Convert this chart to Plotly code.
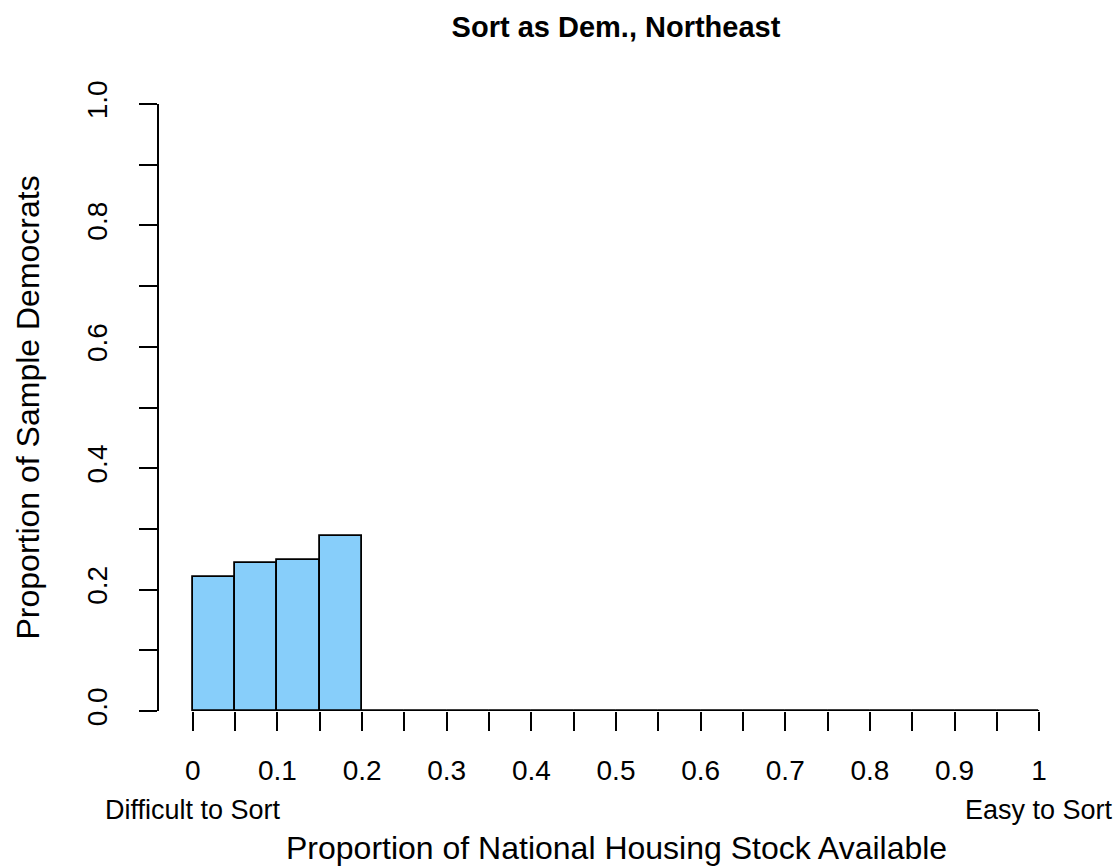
import plotly.graph_objects as go

# Data
bin_left = [round(0.05 * i, 2) for i in range(20)]
bin_width = 0.05
proportions = [0.221, 0.244, 0.248, 0.288] + [0.0] * 16
x_tick_vals = [round(0.05 * i, 2) for i in range(21)]
x_tick_text = ["0", "", "0.1", "", "0.2", "", "0.3", "", "0.4", "", "0.5", "",
               "0.6", "", "0.7", "", "0.8", "", "0.9", "", "1"]
y_tick_vals = [round(0.1 * i, 1) for i in range(11)]
y_tick_text = ["0.0", "", "0.2", "", "0.4", "", "0.6", "", "0.8", "", "1.0"]

title_text = "<b>Sort as Dem., Northeast</b>"
x_title = "Proportion of National Housing Stock Available"
y_title = "Proportion of Sample Democrats"
left_note = "Difficult to Sort"
right_note = "Easy to Sort"

FONT = "Liberation Sans, Arial, Helvetica, sans-serif"

centers = [b + bin_width / 2 for b in bin_left]

fig = go.Figure()
fig.add_trace(go.Bar(
    x=centers, y=proportions, width=bin_width,
    marker=dict(color="#87CEFA", line=dict(color="black", width=1.8)),
    cliponaxis=False, showlegend=False, hoverinfo="skip",
))
fig.add_trace(go.Scatter(
    x=[bin_left[0], bin_left[-1] + bin_width], y=[0, 0], mode="lines",
    line=dict(color="black", width=1.8), cliponaxis=False,
    showlegend=False, hoverinfo="skip",
))

fig.update_layout(
    width=1120, height=867,
    margin=dict(l=159, r=47, t=104, b=156),
    paper_bgcolor="white", plot_bgcolor="white",
    bargap=0,
    font=dict(family=FONT, color="black"),
    title=dict(text=title_text, x=0.5, xanchor="center",
               y=1 - 27 / 867, yanchor="middle", xref="paper",
               font=dict(size=29, family=FONT, color="black")),
    xaxis=dict(range=[-0.04, 1.04], showgrid=False, zeroline=False,
               showline=False, tickmode="array", tickvals=x_tick_vals,
               ticktext=x_tick_text, ticks="outside", ticklen=19,
               tickwidth=1.6, tickcolor="black",
               tickfont=dict(size=28, family=FONT, color="black"),
               ticklabelstandoff=15),
    yaxis=dict(range=[0, 1], showgrid=False, zeroline=False,
               showline=True, linecolor="black", linewidth=1.6,
               tickmode="array", tickvals=y_tick_vals, ticktext=y_tick_text,
               ticks="outside", ticklen=18, tickwidth=1.6, tickcolor="black",
               tickangle=-90,
               tickfont=dict(size=28, family=FONT, color="black"),
               ticklabelstandoff=21),
    annotations=[
        dict(text=left_note, xref="x", yref="paper", x=0, y=0,
             xanchor="center", yanchor="middle", yshift=-99, showarrow=False,
             font=dict(size=27, family=FONT, color="black")),
        dict(text=right_note, xref="x", yref="paper", x=1, y=0,
             xanchor="center", yanchor="middle", yshift=-99, showarrow=False,
             font=dict(size=27, family=FONT, color="black")),
        dict(text=x_title, xref="paper", yref="paper", x=0.5, y=0,
             xanchor="center", yanchor="middle", yshift=-137, showarrow=False,
             font=dict(size=32, family=FONT, color="black")),
        dict(text=y_title, xref="paper", yref="paper", x=0, y=0.5,
             xanchor="center", yanchor="middle", xshift=-132, textangle=-90,
             showarrow=False,
             font=dict(size=32, family=FONT, color="black")),
    ],
)

fig.write_html("out.html",
               config={"displayModeBar": False},
               post_script="document.body.style.margin='0px';")
